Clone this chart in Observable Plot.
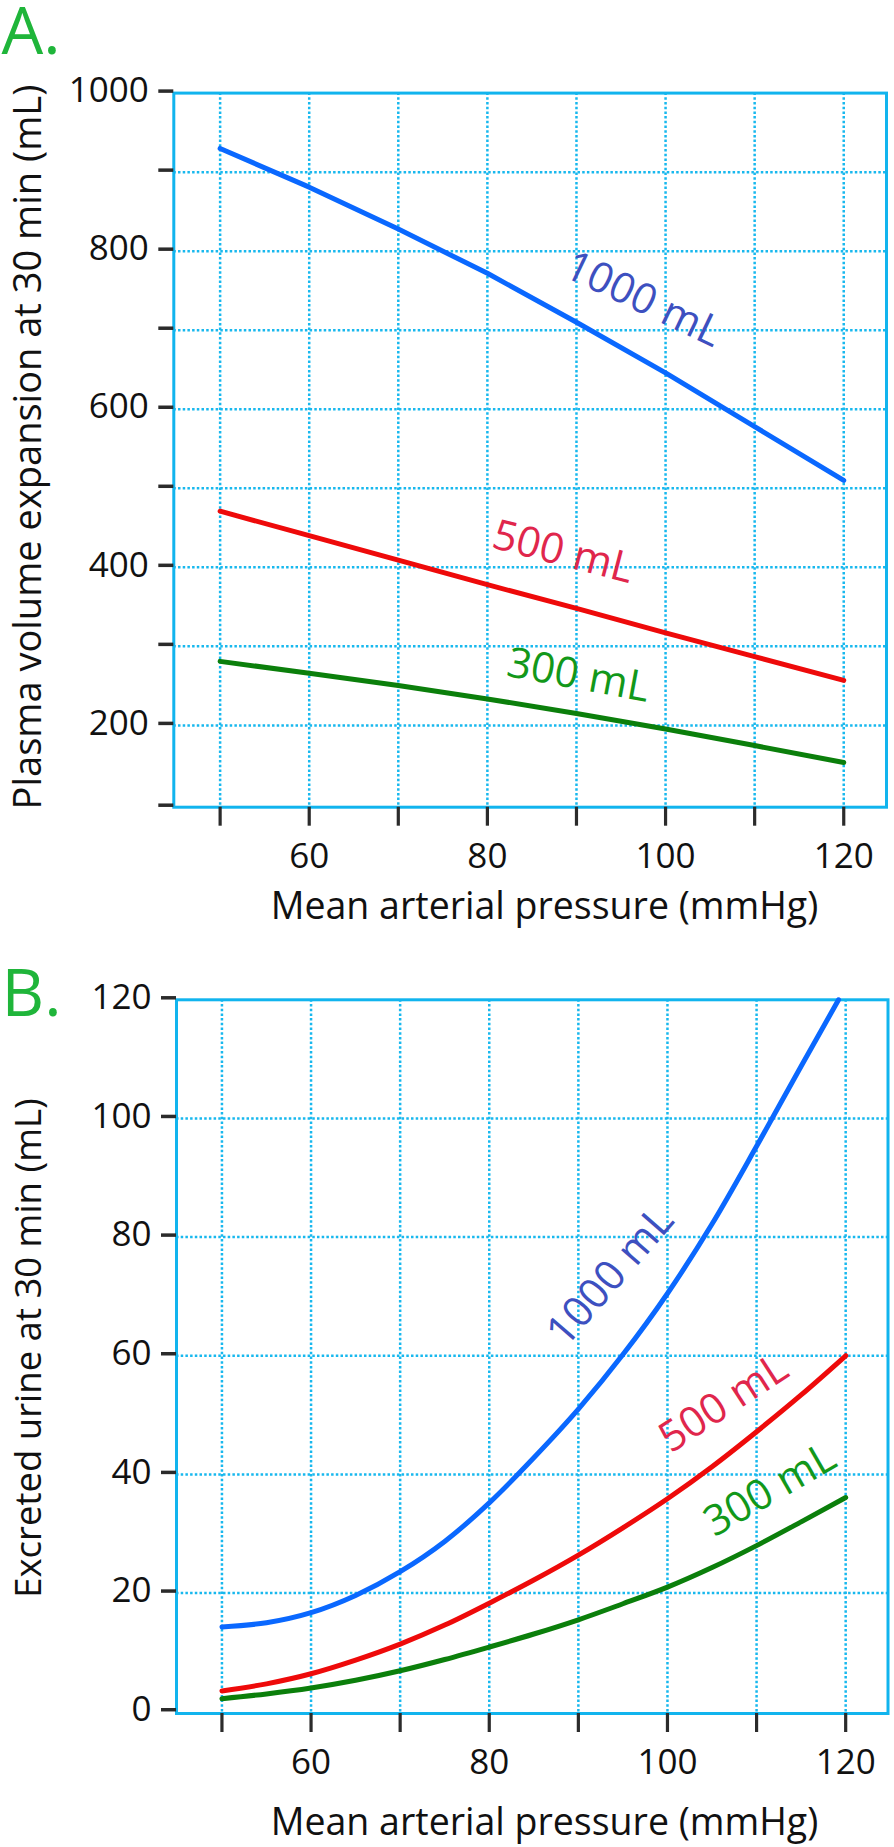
<!DOCTYPE html>
<html>
<head>
<meta charset="utf-8">
<script src="https://cdn.jsdelivr.net/npm/d3@7"></script>
<script src="https://cdn.jsdelivr.net/npm/@observablehq/plot@0.6"></script>
<style>
  html, body { margin: 0; padding: 0; background: #ffffff; }
  #chart { width: 894px; }
  #chart svg { display: block; }
</style>
</head>
<body>
<div id="chart"></div>
<script>
// ---------- Data ----------
// Panel A: plasma volume expansion at 30 min (mL) vs mean arterial pressure (mmHg)
const pressureA = [50, 60, 70, 80, 90, 100, 110, 120];
const plasma1000 = [930, 881, 828, 772, 710, 646, 578, 510];
const plasma500  = [471, 440, 409, 378, 348, 317, 287, 257];
const plasma300  = [281, 266, 250.5, 233.5, 215, 195.5, 174.5, 153];

// Panel B: excreted urine at 30 min (mL) vs mean arterial pressure (mmHg)
const pressureB     = [50, 55, 60, 65, 70, 75, 80, 85, 90, 95, 100, 105, 110, 115, 120];
const pressureB1000 = [50, 55, 60, 65, 70, 75, 80, 85, 90, 95, 100, 105, 110, 115, 119.2];
const urine1000 = [14.3, 15.0, 16.7, 19.6, 23.6, 28.7, 35.2, 42.8, 51.0, 60.2, 70.5, 82.2, 95.3, 108.8, 120];
const urine500  = [3.5, 4.7, 6.4, 8.7, 11.4, 14.6, 18.3, 22.2, 26.4, 31.0, 35.9, 41.3, 47.2, 53.4, 60.0];
const urine300  = [2.2, 3.0, 4.0, 5.3, 6.9, 8.8, 10.9, 13.1, 15.5, 18.2, 21.0, 24.3, 28.0, 32.0, 36.1];

const seriesNames = ["1000 mL", "500 mL", "300 mL"];
const xTicks = [50, 60, 70, 80, 90, 100, 110, 120];
const xTickLabels = [60, 80, 100, 120];
const yTicksA = [96.5, 200, 300, 400, 500, 600, 700, 800, 900, 1000];
const yTickLabelsA = [200, 400, 600, 800, 1000];
const yGridA = [200, 300, 400, 500, 600, 700, 800, 900];
const yTicksB = [0, 20, 40, 60, 80, 100, 120];
const yGridB = [20, 40, 60, 80, 100];

// label placements (data coordinates) and angles
const labelsA = [
  {name: "1000 mL", x: 97.5, y: 739, rotate: 25.5},
  {name: "500 mL",  x: 88.5, y: 419, rotate: 14.5},
  {name: "300 mL",  x: 90.2, y: 263, rotate: 10.5}
];
const labelsB = [
  {name: "1000 mL", x: 93.6, y: 73.4, rotate: -49},
  {name: "500 mL",  x: 106.3, y: 52.0, rotate: -33},
  {name: "300 mL",  x: 111.5, y: 37.4, rotate: -30}
];

// ---------- Styles ----------
const FONT = "'Open Sans', 'DejaVu Sans', sans-serif";
const lineColor  = {"1000 mL": "#0a68ff", "500 mL": "#ee0a0a", "300 mL": "#0b7f0b"};
const labelColor = {"1000 mL": "#3d50c0", "500 mL": "#e0264c", "300 mL": "#12981a"};
const FRAME = "#11b4ee";
const GRID = "#18b8ee";
const TICK = "#2b2b2b";
const PANEL_LETTER = "#1fb53a";

function rows(xs, ys, name) {
  return xs.map((x, i) => ({x, y: ys[i], name}));
}

function makePanel(cfg) {
  const ML = cfg.marginLeft, MT = cfg.marginTop;
  const free = (txt, px, py, o) => Plot.text([txt], {
    frameAnchor: "top-left", text: d => d, dx: px - ML, dy: py - MT,
    lineAnchor: "bottom", fontFamily: FONT, ...o
  });
  const data = cfg.series.flatMap(s => rows(s.xs, s.ys, s.name));
  return Plot.plot({
    width: 894,
    height: cfg.height,
    marginTop: MT, marginBottom: cfg.marginBottom,
    marginLeft: ML, marginRight: cfg.marginRight,
    style: {fontFamily: FONT, background: "#ffffff", overflow: "visible"},
    x: {domain: cfg.xDomain, axis: null},
    y: {domain: cfg.yDomain, axis: null},
    marks: [
      Plot.gridX(xTicks, {stroke: GRID, strokeOpacity: 1, strokeWidth: 2.5, strokeDasharray: "2.5,2.2"}),
      Plot.gridY(cfg.yGrid, {stroke: GRID, strokeOpacity: 1, strokeWidth: 2.5, strokeDasharray: "2.5,2.2"}),
      Plot.frame({stroke: FRAME, strokeWidth: 3}),
      Plot.axisY(cfg.yTicks, {
        anchor: "left", label: null, tickSize: 15, tickPadding: 10,
        tickFormat: cfg.yFormat, fontSize: 35, stroke: TICK, strokeWidth: 3.5,
        fill: "#111", dy: -2
      }),
      Plot.axisX(xTicks, {
        anchor: "bottom", label: null, tickSize: 19, tickPadding: 17,
        tickFormat: d => xTickLabels.includes(d) ? String(d) : "",
        fontSize: 35, stroke: TICK, strokeWidth: 3.2, fill: "#111"
      }),
      Plot.line(data, {
        x: "x", y: "y", z: "name", stroke: d => lineColor[d.name],
        strokeWidth: 5, curve: cfg.curve, strokeLinecap: "round", strokeLinejoin: "round"
      }),
      Plot.text(cfg.labels, {
        x: "x", y: "y", text: "name", rotate: "rotate",
        fill: d => labelColor[d.name], fontSize: 42, fontFamily: FONT,
        textAnchor: "middle", lineAnchor: "middle"
      }),
      free(cfg.letter, 1, cfg.letterBaseline, {fontSize: 66, fill: PANEL_LETTER, textAnchor: "start"}),
      free(cfg.yTitle, 40, cfg.yTitleCenter, {fontSize: cfg.yTitleSize, fill: "#111", textAnchor: "middle", rotate: -90}),
      free("Mean arterial pressure (mmHg)", 544, cfg.xTitleBaseline, {fontSize: 37.5, fill: "#111", textAnchor: "middle"})
    ]
  });
}

const plotA = makePanel({
  height: 940, marginTop: 92.6, marginBottom: 133.3, marginLeft: 173.3, marginRight: 8,
  xDomain: [44.8, 124.8], yDomain: [96.5, 1000],
  yTicks: yTicksA, yGrid: yGridA,
  yFormat: d => yTickLabelsA.includes(d) ? String(d) : "",
  series: [
    {name: seriesNames[0], xs: pressureA, ys: plasma1000},
    {name: seriesNames[1], xs: pressureA, ys: plasma500},
    {name: seriesNames[2], xs: pressureA, ys: plasma300}
  ],
  curve: "linear",
  labels: labelsA,
  letter: "A.", letterBaseline: 53,
  yTitle: "Plasma volume expansion at 30 min (mL)", yTitleCenter: 446.5, yTitleSize: 38,
  xTitleBaseline: 918
});

const plotB = makePanel({
  height: 907, marginTop: 59.3, marginBottom: 134, marginLeft: 176, marginRight: 6.5,
  xDomain: [44.9, 124.75], yDomain: [-0.3, 120],
  yTicks: yTicksB, yGrid: yGridB,
  yFormat: d => String(d),
  series: [
    {name: seriesNames[0], xs: pressureB1000, ys: urine1000},
    {name: seriesNames[1], xs: pressureB, ys: urine500},
    {name: seriesNames[2], xs: pressureB, ys: urine300}
  ],
  curve: "monotone-x",
  labels: labelsB,
  letter: "B.", letterBaseline: 75,
  yTitle: "Excreted urine at 30 min (mL)", yTitleCenter: 407.5, yTitleSize: 36.5,
  xTitleBaseline: 894
});

const chart = document.getElementById("chart");
chart.appendChild(plotA);
chart.appendChild(plotB);
</script>
</body>
</html>
